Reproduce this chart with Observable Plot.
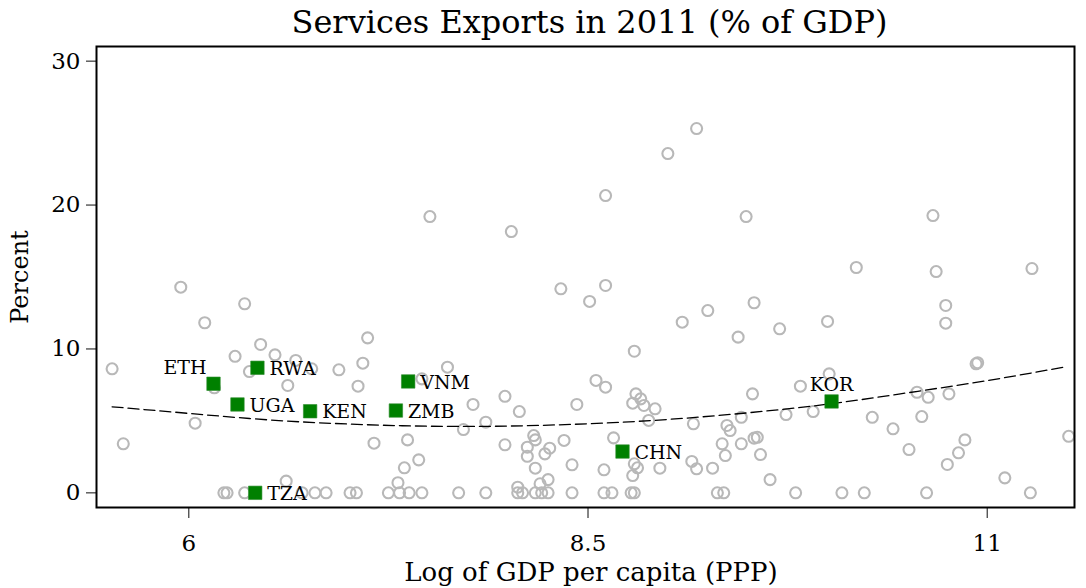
<!DOCTYPE html>
<html><head><meta charset="utf-8">
<script src="https://cdn.jsdelivr.net/npm/d3@7"></script>
<script src="https://cdn.jsdelivr.net/npm/@observablehq/plot@0.6"></script>
<style>
body{margin:0;background:#fff;}
#wrap{position:relative;width:1086px;height:588px;font-family:"DejaVu Serif",serif;}
#title{position:absolute;top:0;left:93px;right:0;text-align:center;font-size:32px;line-height:44px;color:#000;white-space:nowrap;}
</style></head><body>
<div id="wrap"><div id="title">Services Exports in 2011 (% of GDP)</div></div>
<script>
// Other countries (gray hollow circles): log GDP per capita (PPP) and services exports (% of GDP)
const otherX = [7.51,8.02,8.61,9.00,9.18,9.49,10.66,10.18,10.68,11.28,5.95,6.35,6.10,7.12,6.45,6.54,6.29,6.67,7.09,5.52,6.77,6.38,6.94,6.62,7.06,6.16,6.04,5.59,7.16,7.37,7.44,7.35,6.61,7.31,7.46,8.33,8.61,8.51,9.25,9.09,9.44,8.79,7.62,8.55,8.61,7.98,7.78,8.43,8.80,8.83,8.78,8.85,8.92,8.07,7.86,7.72,8.88,9.16,9.37,9.39,9.46,9.53,8.16,8.17,8.35,8.66,7.98,8.12,8.26,8.23,8.12,9.34,9.46,9.36,8.17,8.40,8.60,8.79,8.81,8.95,9.15,9.18,9.28,8.78,8.25,8.20,8.06,9.54,10.74,10.74,10.00,9.70,10.93,10.94,10.01,9.83,10.56,10.63,10.76,9.74,9.91,10.28,10.59,10.41,9.56,9.54,9.58,11.51,10.51,10.86,10.82,10.75,9.64,11.11,
  6.22,6.24,6.35,6.71,6.79,6.86,7.01,7.05,7.25,7.32,7.38,7.46,7.69,7.86,8.06,8.09,8.17,8.21,8.25,8.40,8.60,8.65,8.77,8.79,9.31,9.35,9.80,10.09,10.23,10.62,11.27];
const otherY = [19.20,18.16,20.66,23.58,25.32,19.20,19.27,15.66,15.38,15.59,14.29,13.14,11.82,10.77,10.31,9.59,9.49,9.20,9.01,8.62,8.62,8.43,8.55,7.46,7.41,7.30,4.84,3.41,3.45,3.68,2.29,1.74,0.81,0.70,7.92,14.18,14.41,13.30,12.67,11.86,10.82,9.84,8.73,7.81,7.34,6.71,6.14,6.14,6.88,6.53,6.23,6.07,5.84,5.65,4.91,4.40,5.03,4.80,4.68,4.33,5.25,6.88,3.98,3.68,3.64,3.82,3.34,3.17,3.10,2.71,2.54,3.41,3.41,2.59,1.71,1.95,1.60,2.02,1.74,1.71,2.18,1.67,1.71,1.20,0.92,0.63,0.39,13.21,13.02,11.79,11.91,11.40,8.97,9.04,8.27,7.41,6.99,6.64,6.88,5.44,5.65,5.25,5.30,4.45,3.86,3.80,2.66,3.93,3.01,3.68,2.78,1.97,0.92,1.04,
  0,0,0,0,0,0,0,0,0,0,0,0,0,0,0,0,0,0,0,0,0,0,0,0,0,0,0,0,0,0,0];

// Highlighted countries (green squares)
const hiCodes = ["ETH","RWA","UGA","KEN","ZMB","VNM","TZA","CHN","KOR"];
const hiX = [6.155,6.43,6.305,6.76,7.297,7.374,6.416,8.716,10.025];
const hiY = [7.58,8.69,6.14,5.67,5.72,7.74,0,2.87,6.35];

// Quadratic fit curve
const fitX = [5.52,6.0,6.5,7.0,7.5,8.0,8.5,9.0,9.5,10.0,10.5,11.0,11.5];
const fitY = [5.98,5.52,5.07,4.78,4.63,4.64,4.80,5.10,5.56,6.16,6.95,7.80,8.78];

const xTicks = [6, 8.5, 11];
const yTicks = [0, 10, 20, 30];

const others = otherX.map((x, i) => ({x, y: otherY[i]}));
const hi = hiCodes.map((c, i) => ({code: c, x: hiX[i], y: hiY[i]}));
const fit = fitX.map((x, i) => ({x, y: fitY[i]}));

const rightLab = hi.filter(d => d.code !== "ETH" && d.code !== "KOR");
const ethLab = hi.filter(d => d.code === "ETH");
const korLab = hi.filter(d => d.code === "KOR");

const font = '"DejaVu Serif", serif';
const chart = Plot.plot({
  width: 1086, height: 588,
  marginTop: 46, marginBottom: 81, marginLeft: 96, marginRight: 12,
  style: {fontFamily: font, background: "transparent", color: "black", overflow: "visible"},
  x: {domain: [5.4223, 11.5463]},
  y: {domain: [-1.02, 31.02]},
  marks: [
    Plot.axisY({ticks: yTicks, tickFormat: d => String(d), tickSize: 10, tickPadding: 6, fontSize: 23, label: null, stroke: "#444", strokeWidth: 1.3, fill: "black"}),
    Plot.axisX({ticks: xTicks, tickFormat: d => String(d), tickSize: 11, tickPadding: 16, fontSize: 23, label: null, stroke: "#444", strokeWidth: 1.3, fill: "black"}),
    Plot.dot(others, {x: "x", y: "y", r: 5.5, stroke: "#b8b8b8", strokeWidth: 2.1, fill: "none"}),
    Plot.line(fit, {x: "x", y: "y", curve: "natural", stroke: "black", strokeWidth: 1.3, strokeDasharray: "11,5"}),
    Plot.dot(hi, {x: "x", y: "y", symbol: "square", r: 7.6, fill: "#008000", stroke: "#2e8b2e", strokeWidth: 0.6}),
    Plot.text(rightLab, {x: "x", y: "y", text: "code", textAnchor: "start", dx: 12, dy: 1, fontSize: 19, fill: "black"}),
    Plot.text(ethLab, {x: "x", y: "y", text: "code", textAnchor: "end", dx: -7, dy: -16, fontSize: 19, fill: "black"}),
    Plot.text(korLab, {x: "x", y: "y", text: "code", textAnchor: "middle", dy: -17, fontSize: 19, fill: "black"}),
    Plot.frame({stroke: "black", strokeWidth: 2}),
    Plot.text(["Log of GDP per capita (PPP)"], {text: d => d, frameAnchor: "bottom", textAnchor: "middle", dx: 5.5, dy: 73.7, lineAnchor: "bottom", fontSize: 26, fill: "black"}),
    Plot.text(["Percent"], {text: d => d, frameAnchor: "left", textAnchor: "middle", dx: -69, rotate: -90, lineAnchor: "bottom", fontSize: 24, fill: "black"})
  ]
});
document.getElementById("wrap").appendChild(chart);
</script>
</body></html>
